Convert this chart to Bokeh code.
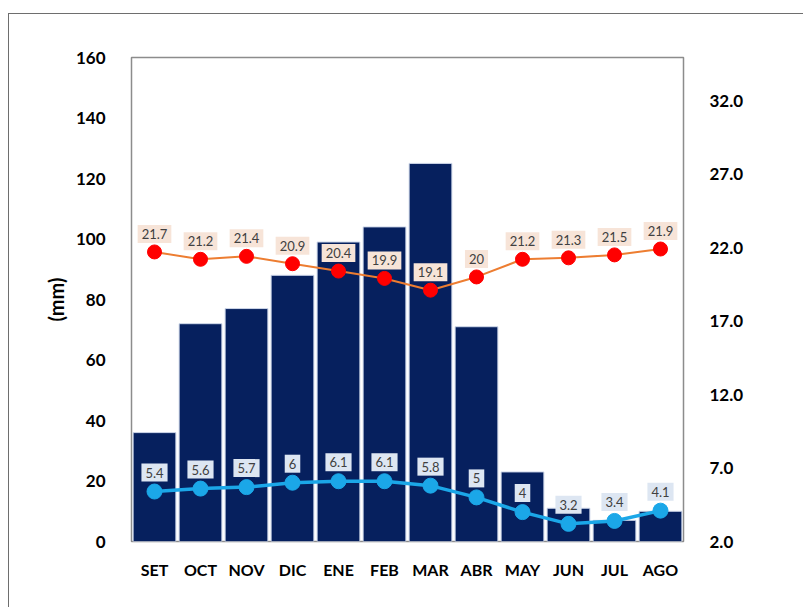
from bokeh.plotting import figure
from bokeh.models import (Range1d, LinearAxis, FactorRange, ColumnDataSource, Label,
                          FixedTicker, NumeralTickFormatter)
from bokeh.core.properties import value
from bokeh.embed import file_html
from bokeh.resources import INLINE

months = ["SET", "OCT", "NOV", "DIC", "ENE", "FEB", "MAR", "ABR", "MAY", "JUN", "JUL", "AGO"]
precip = [36, 72, 77, 88, 99, 104, 125, 71, 23, 11, 7, 10]
tmax = [21.7, 21.2, 21.4, 20.9, 20.4, 19.9, 19.1, 20.0, 21.2, 21.3, 21.5, 21.9]
tmin = [5.4, 5.6, 5.7, 6.0, 6.1, 6.1, 5.8, 5.0, 4.0, 3.2, 3.4, 4.1]
tmax_labels = ["21.7", "21.2", "21.4", "20.9", "20.4", "19.9", "19.1", "20", "21.2", "21.3", "21.5", "21.9"]
tmin_labels = ["5.4", "5.6", "5.7", "6", "6.1", "6.1", "5.8", "5", "4", "3.2", "3.4", "4.1"]
series_names = ["Precipitación", "Tmax", "Tmin"]
mm_ticks = [0, 20, 40, 60, 80, 100, 120, 140, 160]
c_ticks = [2, 7, 12, 17, 22, 27, 32]

FONT = "Lato"
NAVY, ORANGE, RED, BLUE = "#06205e", "#ed7d31", "#ff0000", "#1ba7e8"
src = ColumnDataSource(dict(m=months, p=precip, tmax=tmax, tmin=tmin, lmax=tmax_labels, lmin=tmin_labels))

# figure is offset by a margin so that its left/top border forms the outer chart frame
p = figure(width=795, height=594, x_range=FactorRange(*months, range_padding=0),
           y_range=Range1d(0, 160), output_backend="svg", toolbar_location=None,
           min_border_left=122, min_border_right=121, min_border_top=43, min_border_bottom=67)
p.margin = (13, 0, 0, 8)
p.styles = {"border-left": "1.5px solid #6e6e6e", "border-top": "1.5px solid #6e6e6e"}
p.extra_y_ranges = {"temp": Range1d(2, 34.93)}
p.outline_line_color = "#8c8c8c"
p.outline_line_width = 1.5
p.xgrid.visible = False
p.ygrid.visible = False
p.background_fill_color = "white"
p.border_fill_color = "white"

for ax in [p.xaxis[0], p.yaxis[0]]:
    ax.axis_line_color = None
    ax.major_tick_line_color = None
    ax.minor_tick_line_color = None
    ax.major_label_text_font = FONT
    ax.major_label_text_font_style = "bold"
    ax.major_label_text_color = "#000000"

p.yaxis[0].ticker = FixedTicker(ticks=mm_ticks)
p.yaxis[0].major_label_text_font_size = "17px"
p.yaxis[0].major_label_standoff = 20
p.yaxis[0].axis_label = "(mm)"
p.yaxis[0].axis_label_text_font = FONT
p.yaxis[0].axis_label_text_font_style = "bold"
p.yaxis[0].axis_label_text_font_size = "20px"
p.yaxis[0].axis_label_text_color = "#000000"
p.yaxis[0].axis_label_standoff = 5
p.xaxis[0].major_label_text_font_size = "16px"
p.xaxis[0].major_label_standoff = 12

ra = LinearAxis(y_range_name="temp", ticker=FixedTicker(ticks=c_ticks),
                formatter=NumeralTickFormatter(format="0.0"))
ra.axis_line_color = None
ra.major_tick_line_color = None
ra.minor_tick_line_color = None
ra.major_label_text_font = FONT
ra.major_label_text_font_style = "bold"
ra.major_label_text_font_size = "17px"
ra.major_label_text_color = "#000000"
ra.major_label_standoff = 20
p.add_layout(ra, "right")

p.vbar(x="m", top="p", width=0.93, source=src, fill_color=NAVY,
       line_color="#cfd8ea", line_width=1)

p.line(x="m", y="tmax", source=src, y_range_name="temp", line_color=ORANGE, line_width=2)
p.scatter(x="m", y="tmax", source=src, y_range_name="temp", size=14,
          fill_color=RED, line_color=RED)
p.line(x="m", y="tmin", source=src, y_range_name="temp", line_color=BLUE, line_width=3.5)
p.scatter(x="m", y="tmin", source=src, y_range_name="temp", size=15,
          fill_color=BLUE, line_color=BLUE)

p.text(x="m", y="tmax", text="lmax", source=src, y_range_name="temp",
       y_offset=-18, text_align="center", text_baseline="middle",
       text_font=value(FONT), text_font_size="13px", text_color="#404040",
       background_fill_color="#f7e4d8", padding=4)
p.text(x="m", y="tmin", text="lmin", source=src, y_range_name="temp",
       y_offset=-19, text_align="center", text_baseline="middle",
       text_font=value(FONT), text_font_size="13px", text_color="#404040",
       background_fill_color="#dde6f2", padding=4)

p.add_layout(Label(x=13.43, y=18.4, y_range_name="temp", text="(°C)", text_font=FONT,
                   text_font_style="bold", text_font_size="20px", text_align="center",
                   text_baseline="middle", text_color="#000000"))

# legend below the frame, built from text annotations (they are not clipped to the frame)
LY = -1.75
def leg_text(x, txt, color, size, align="left", style="bold", font=FONT):
    p.add_layout(Label(x=x, y=LY, y_range_name="temp", text=txt, text_font=font,
                       text_font_style=style, text_font_size=size, text_align=align,
                       text_baseline="middle", text_color=color))

leg_text(1.87, "■", NAVY, "26px", align="center", style="normal", font="DejaVu Sans")
leg_text(2.12, series_names[0], "#595959", "19px")
leg_text(5.22, "━━", ORANGE, "12px", align="center", style="normal", font="DejaVu Sans")
leg_text(5.22, "●", RED, "15px", align="center", style="normal", font="DejaVu Sans")
leg_text(5.52, series_names[1], "#595959", "19px")
leg_text(7.83, "━━", BLUE, "12px", align="center", style="normal", font="DejaVu Sans")
leg_text(7.83, "●", BLUE, "15px", align="center", style="normal", font="DejaVu Sans")
leg_text(8.13, series_names[2], "#595959", "19px")

open("out.html", "w").write(file_html(p, INLINE))
